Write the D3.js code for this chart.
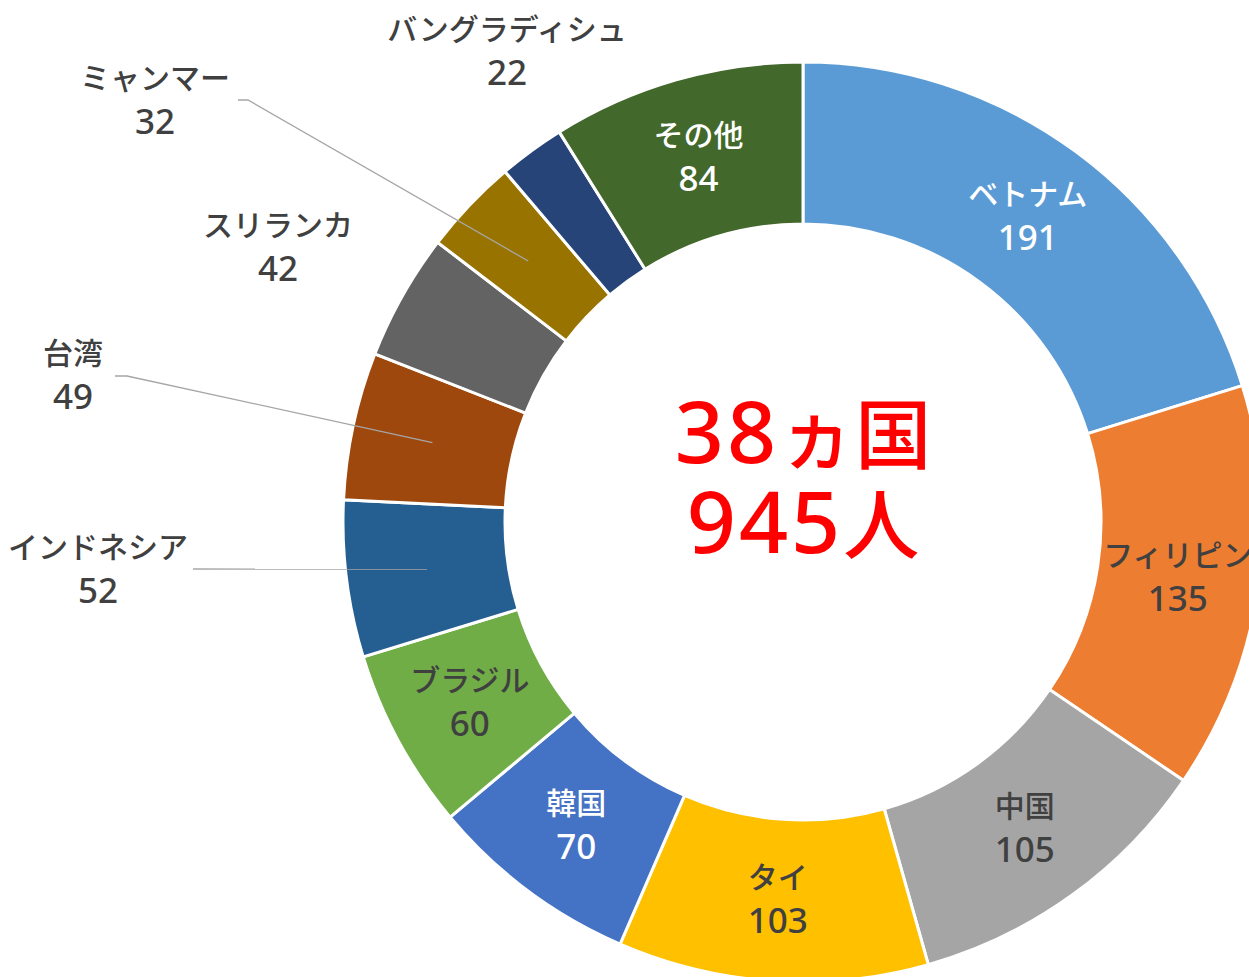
<html>
<head>
<meta charset="utf-8">
<title>国別内訳 ドーナツ</title>
<script src="https://cdn.jsdelivr.net/npm/d3@7/dist/d3.min.js"></script>
<style>
body{ margin:0; background:#fff; }
.seg{ stroke:#fff; stroke-width:3px; }
.lbl{ font-family:"Noto Sans CJK JP",sans-serif; font-size:30px; font-weight:500; text-anchor:middle; }
.lbl .num{ font-family:"Noto Sans",sans-serif; font-size:35px; font-weight:500; }
.leader{ fill:none; stroke:#a6a6a6; stroke-width:1.3px; }
.center{ font-family:"Noto Sans CJK JP",sans-serif; fill:#ff0000; text-anchor:middle; font-size:76px; font-weight:500; }
.center .num{ font-family:"Noto Sans",sans-serif; font-size:86px; letter-spacing:3px; }
</style>
</head>
<body>
<script>

var countries = ["ベトナム","フィリピン","中国","タイ","韓国","ブラジル","インドネシア","台湾","スリランカ","ミャンマー","バングラディシュ","その他"];
var people = [191,135,105,103,70,60,52,49,42,32,22,84];
var colors = ["#5b9bd5","#ed7d31","#a5a5a5","#ffc000","#4472c4","#70ad47","#255e91","#9e480e","#636363","#997300","#264478","#43682b"];
var whiteText = ["ベトナム","韓国","その他"];
var centerLines = ["38ヵ国","945人"];

var width = 1249, height = 977;
var cx = 803, cy = 522;
var outerR = 460, innerR = 298;
var lineGap = 45;

// 外側に出したラベル（位置は手で動かしたもの）
var outside = {
	"インドネシア": {x:98, y:570, line:[[193,569]]},
	"台湾": {x:73, y:376, line:[[115,376],[127,376]]},
	"スリランカ": {x:278, y:248, line:null},
	"ミャンマー": {x:155, y:101, line:[[238,100],[248,100]]},
	"バングラディシュ": {x:507, y:52, line:null}
};

var svg = d3.select("body").append("svg")
	.attr("width",width)
	.attr("height",height);

var data = countries.map(function(c,i){ return {name:c, value:people[i], color:colors[i]}; });

var pie = d3.pie().sort(null).value(function(d){ return d.value; });
var arc = d3.arc().innerRadius(innerR).outerRadius(outerR);

var g = svg.append("g").attr("transform","translate(" + cx + "," + cy + ")");

var arcs = pie(data);

g.selectAll("path.seg")
	.data(arcs)
	.enter().append("path")
	.attr("class","seg")
	.attr("d",arc)
	.attr("fill",function(d){ return d.data.color; });

// 引き出し線
arcs.forEach(function(d){
	var o = outside[d.data.name];
	if(!o || !o.line) return;
	var c = arc.centroid(d);
	var pts = o.line.map(function(p){ return [p[0]-cx, p[1]-cy]; });
	pts.push(c);
	g.append("path")
		.attr("class","leader")
		.attr("d",d3.line()(pts));
});

// ラベル
arcs.forEach(function(d){
	var o = outside[d.data.name];
	var x, y;
	if(o){
		x = o.x - cx; y = o.y - cy;
	}else{
		var c = arc.centroid(d);
		x = c[0]; y = c[1];
	}
	var fill = (!o && whiteText.indexOf(d.data.name) >= 0) ? "#ffffff" : "#404040";
	var t = g.append("text")
		.attr("class","lbl")
		.attr("fill",fill);
	t.append("tspan").attr("x",x).attr("y",y - 12).text(d.data.name);
	t.append("tspan").attr("class","num").attr("x",x).attr("y",y - 12 + lineGap).text(d.data.value);
});

// 中央の文字
centerLines.forEach(function(s,i){
	var m = s.match(/^(\d+)(.*)$/);
	var t = g.append("text")
		.attr("class","center")
		.attr("x",0)
		.attr("y",-59 + i*90);
	t.append("tspan").attr("class","num").text(m[1]);
	t.append("tspan").text(m[2]);
});

</script>
</body>
</html>
